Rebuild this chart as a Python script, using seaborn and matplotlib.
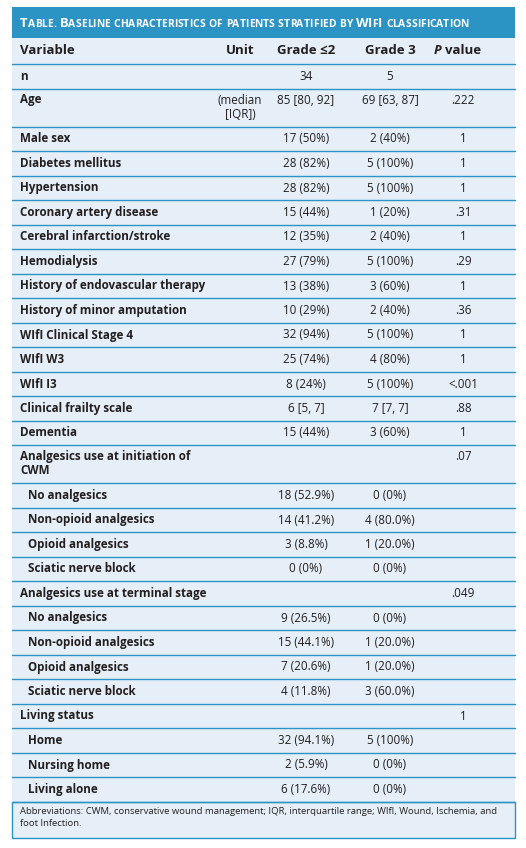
import matplotlib
matplotlib.use("Agg")
import matplotlib.pyplot as plt
import seaborn as sns

sns.set_style("white")
plt.rcParams["font.family"] = ["Open Sans", "DejaVu Sans"]

BLUE = "#2b94c4"
BG = "#e6eff8"
INK = "#231f20"

title_words = ["Table.", "Baseline", "characteristics", "of", "patients",
               "stratified", "by", "WIfI", "classification"]
headers = ["Variable", "Unit", "Grade ≤2", "Grade 3", "value"]

variables = ["n", "Age", "Male sex", "Diabetes mellitus", "Hypertension",
             "Coronary artery disease", "Cerebral infarction/stroke", "Hemodialysis",
             "History of endovascular therapy", "History of minor amputation",
             "WIfI Clinical Stage 4", "WIfI W3", "WIfI I3", "Clinical frailty scale",
             "Dementia", "Analgesics use at initiation of\nCWM", "No analgesics",
             "Non-opioid analgesics", "Opioid analgesics", "Sciatic nerve block",
             "Analgesics use at terminal stage", "No analgesics", "Non-opioid analgesics",
             "Opioid analgesics", "Sciatic nerve block", "Living status", "Home",
             "Nursing home", "Living alone"]
indented = [False] * 16 + [True] * 4 + [False] + [True] * 4 + [False] + [True] * 3
units = ["", "(median\n[IQR])"] + [""] * 27
grade_le2 = ["34", "85 [80, 92]", "17 (50%)", "28 (82%)", "28 (82%)", "15 (44%)",
             "12 (35%)", "27 (79%)", "13 (38%)", "10 (29%)", "32 (94%)", "25 (74%)",
             "8 (24%)", "6 [5, 7]", "15 (44%)", "", "18 (52.9%)", "14 (41.2%)",
             "3 (8.8%)", "0 (0%)", "", "9 (26.5%)", "15 (44.1%)", "7 (20.6%)",
             "4 (11.8%)", "", "32 (94.1%)", "2 (5.9%)", "6 (17.6%)"]
grade_3 = ["5", "69 [63, 87]", "2 (40%)", "5 (100%)", "5 (100%)", "1 (20%)",
           "2 (40%)", "5 (100%)", "3 (60%)", "2 (40%)", "5 (100%)", "4 (80%)",
           "5 (100%)", "7 [7, 7]", "3 (60%)", "", "0 (0%)", "4 (80.0%)",
           "1 (20.0%)", "0 (0%)", "", "0 (0%)", "1 (20.0%)", "1 (20.0%)",
           "3 (60.0%)", "", "5 (100%)", "0 (0%)", "0 (0%)"]
p_values = ["", ".222", "1", "1", "1", ".31", "1", ".29", "1", ".36", "1", "1",
            "<.001", ".88", "1", ".07", "", "", "", "", ".049", "", "", "", "",
            "1", "", "", ""]
footnote = ("Abbreviations: CWM, conservative wound management; IQR, interquartile range; WIfI, Wound, Ischemia, and\n"
            "foot Infection.")

fig = plt.figure(figsize=(5.26, 8.48), dpi=100)
ax = fig.add_axes([0, 0, 1, 1])
ax.set_xlim(0, 526)
ax.set_ylim(848, 0)
ax.axis("off")

L, R = 12, 515
col_x = [20, 240, 306, 390, 463]

# title bar, fake small caps
ax.add_patch(plt.Rectangle((L, 7), R - L, 31, color=BLUE, lw=0))
x = 20
fig.canvas.draw()
rend = fig.canvas.get_renderer()
for w in title_words:
    for ch in w:
        big = ch.isupper()
        t = ax.text(x, 27, ch.upper(), color="white", fontsize=9.4 if big else 7.4,
                    fontweight="bold", va="baseline", ha="left")
        x += t.get_window_extent(rend).width
    x += 3.6

# body background incl. footnote
ax.add_patch(plt.Rectangle((L, 38), R - L, 838 - 38, color=BG, lw=0))
for i, h in enumerate(headers):
    ax.text(col_x[i], 51, h, fontsize=9.5, fontweight="bold", va="center",
            ha="left" if i == 0 else "center", color=INK)
ax.text(col_x[4] - 22, 51, "P", fontsize=9.5, fontweight="bold", style="italic",
        va="center", ha="right", color=INK)
ax.plot([L, R], [64, 64], color=BLUE, lw=1)

y = 64
for i, v in enumerate(variables):
    tall = "\n" in v or "\n" in units[i]
    h = 38 if tall else 24.5
    yy, va = (y + 5, "top") if tall else (y + 12.5, "center")
    ax.text(28 if indented[i] else 20, yy, v, fontsize=8.4, fontweight="bold",
            va=va, ha="left", color=INK, linespacing=1.15)
    if units[i]:
        ax.text(col_x[1], yy, units[i], fontsize=8.4, va=va, ha="center",
                color=INK, linespacing=1.15)
    ax.text(col_x[2], yy, grade_le2[i], fontsize=8.4, va=va, ha="center", color=INK)
    ax.text(col_x[3], yy, grade_3[i], fontsize=8.4, va=va, ha="center", color=INK)
    ax.text(col_x[4], yy, p_values[i], fontsize=8.4, va=va, ha="center", color=INK)
    y += h
    ax.plot([L, R], [y, y], color=BLUE, lw=1)

ax.text(20, y + 6, footnote, fontsize=6.8, va="top", ha="left", color=INK,
        linespacing=1.4)
ax.add_patch(plt.Rectangle((L, y), R - L, 838 - y, fill=False, ec=BLUE, lw=1))

fig.savefig("out.png", dpi=100)
